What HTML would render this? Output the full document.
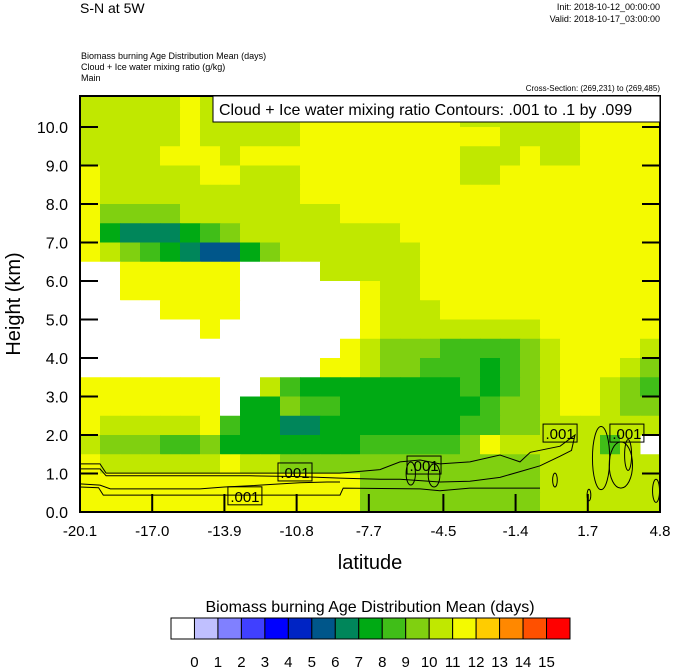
<!DOCTYPE html>
<html><head><meta charset="utf-8"><style>
body{margin:0;background:#fff;}
svg{display:block;font-family:"Liberation Sans",Arial,sans-serif;}
</style></head><body>
<svg id="chart" width="674" height="668" viewBox="0 0 674 668">
<text x="80" y="13" font-size="14">S-N at 5W</text>
<text x="660" y="10" font-size="9" text-anchor="end">Init: 2018-10-12_00:00:00</text>
<text x="660" y="22" font-size="9" text-anchor="end">Valid: 2018-10-17_03:00:00</text>
<text x="81" y="59" font-size="9">Biomass burning Age Distribution Mean   (days)</text>
<text x="81" y="70" font-size="9">Cloud + Ice water mixing ratio   (g/kg)</text>
<text x="81" y="81" font-size="9">Main</text>
<text x="660" y="91" font-size="8" text-anchor="end">Cross-Section: (269,231) to (269,485)</text>
<g id="field"></g>
<g id="contours"></g>
<g id="axes"></g>
<g id="legendbox">
<rect x="213" y="96" width="447" height="26" fill="#fff" stroke="#000" stroke-width="1"/>
<text x="219" y="115" font-size="16">Cloud + Ice water mixing ratio Contours: .001 to .1 by .099</text>
</g>
<text transform="translate(20,304) rotate(-90)" font-size="20" text-anchor="middle">Height (km)</text>
<text x="370" y="569" font-size="20" text-anchor="middle">latitude</text>
<text x="370" y="612" font-size="16" text-anchor="middle">Biomass burning Age Distribution Mean  (days)</text>
<g id="cbar"></g>
</svg>
<script>
const latTicks=["-20.1","-17.0","-13.9","-10.8","-7.7","-4.5","-1.4","1.7","4.8"];
const kmTicks=["0.0","1.0","2.0","3.0","4.0","5.0","6.0","7.0","8.0","9.0","10.0"];
const levelColors=["#ffffff","#c0c0ff","#8080ff","#4040ff","#0000ff","#0024c4","#00568a","#00865a","#00aa14","#40be18","#80d010","#c0e800","#f4fa00","#ffcc00","#ff8800","#ff5000","#ff0000"];
const levelLabels=["0","1","2","3","4","5","6","7","8","9","10","11","12","13","14","15"];
// rows of the field from top (10.5-11 km) to bottom (0-0.5 km); each char = colour level (hex)
const fieldRows=[
"bbbbbcbbbbbcccccccccccccccccc",
"bbbbbcbbbbbccccccccbbbbbbcccc",
"bbbbbcbbbbbccccccccccbbbbcccc",
"bbbbcccbcccccccccccbbbcbbcccc",
"cbbbbbccbbbccccccccbbcccccccc",
"cbbbbbbbbbbcccccccccccccccccc",
"caaaabbbbbbbbcccccccccccccccc",
"c877789abbbbbbbbccccccccccccc",
"cba987668abbbbbbbcccccccccccc",
"00cccccc0000bbbbbcccccccccccc",
"00cccccc000000cbbcccccccccccc",
"0000cccc000000cbbbccccccccccc",
"000000c0000000cbbbbbbbbcccccc",
"0000000000000cbaaa9999abccccb",
"000000000000ccbaa9998 9abcccba".replace(" ",""),
"ccccccc00b988888888989abccba9",
"ccccccc088a998888888 9aabccbaa".replace(" ",""),
"cbbbbbc98877888888899aabbbbbb",
"baaa99a888888899 99acbbbbb9b".replace(" ","9"),
"cbbbbbbcbbaaaaaaaaaaaaabbbbbb",
"ccccccccccccccaaaaaaaaabbbbbb",
"ccccccccccccccaaaaaaaaabbbbbb"];
const latMin=-20.1, latMax=4.8, kmMin=0, kmMax=10.8, kmStep=0.5;
// contour lines (.001) as [lat, km] points
const contour1=[[-20.1,1.25],[-19.24,1.25],[-18.98,1.01],[-8.94,1.01],[-7.22,1.10],[-6.36,1.30],[-5.5,1.35],[-4.65,1.25],[-3.36,1.30],[-2.07,1.48],[-1.21,1.30],[-0.77,1.55],[0.51,1.71],[1.15,2.0],[1.0,1.6],[0.51,1.45],[-0.35,1.2],[-1.21,1.05],[-2.07,0.9],[-3.36,0.8],[-4.65,0.78],[-6.36,0.85],[-7.22,0.85],[-8.94,0.88],[-10.66,0.92],[-12.8,0.94],[-18.98,0.94],[-19.24,1.12],[-20.1,1.12]];
const contour2=[[-20.1,0.73],[-19.24,0.70],[-18.8,0.60],[-14.95,0.60],[-13.9,0.65],[-12.8,0.68],[-11.5,0.73],[-10.66,0.76],[-9.5,0.78],[-8.94,0.78]];
const contour3=[[-20.1,0.65],[-19.3,0.63],[-19.1,0.44],[-8.94,0.44],[-8.8,0.62],[-5.5,0.6],[-4.65,0.55],[-3.36,0.62],[-0.35,0.62]];
const loops=[[2.27,1.40,0.37,0.82],[3.12,1.22,0.5,0.6],[3.43,1.48,0.15,0.4],[0.29,0.83,0.1,0.18],[4.63,0.55,0.15,0.3],[1.75,0.44,0.08,0.15],[-5.9,1.0,0.2,0.3],[-4.9,0.95,0.25,0.3]];
const labelPos=[[-13.02,0.42],[-10.87,1.04],[-5.33,1.22],[0.51,2.05],[3.38,2.05]];

const NS="http://www.w3.org/2000/svg";
const L=80,R=660,T=96,B=512;
const xS=v=>L+(v-latMin)/(latMax-latMin)*(R-L);
const yS=v=>B-(v-kmMin)*38.5;
function mk(t,a,p){const e=document.createElementNS(NS,t);for(const k in a)e.setAttribute(k,a[k]);p.appendChild(e);return e;}
const field=document.getElementById('field');
const nRows=fieldRows.length, nCols=fieldRows[0].length;
const colW=(R-L)/nCols;
fieldRows.forEach((row,ri)=>{
  const kmTop=(nRows-ri)*kmStep, kmBot=kmTop-kmStep;
  for(let ci=0;ci<row.length;ci++){
    const lv=parseInt(row[ci],16);
    const yt=Math.max(T,yS(kmTop)), yb=yS(kmBot);
    const r=mk('rect',{x:(L+ci*colW).toFixed(2),y:yt.toFixed(2),width:(colW+0.5).toFixed(2),height:(yb-yt+0.5).toFixed(2),fill:levelColors[lv]},field);
    
    
  }
});
const cg=document.getElementById('contours');
[contour1,contour2,contour3].forEach(c=>{
  const p=mk('polyline',{points:c.map(q=>xS(q[0]).toFixed(1)+','+yS(q[1]).toFixed(1)).join(' '),fill:'none',stroke:'#000','stroke-width':1},cg);
  
  
});
loops.forEach(o=>{
  const e=mk('ellipse',{cx:xS(o[0]),cy:yS(o[1]),rx:o[2]*(R-L)/(latMax-latMin),ry:o[3]*38.5,fill:'none',stroke:'#000','stroke-width':1},cg);
  
  
});
labelPos.forEach(o=>{
  const cx=xS(o[0]),cy=yS(o[1]);
  const r=mk('rect',{x:cx-17,y:cy-9,width:34,height:18,fill:'none',stroke:'#000','stroke-width':1},cg);
  
  
  const t=mk('text',{x:cx,y:cy+6,'font-size':15,'text-anchor':'middle'},cg);
  t.textContent='.001';
  
  
});
const ax=document.getElementById('axes');
mk('rect',{x:L,y:T,width:R-L,height:B-T,fill:'none',stroke:'#000','stroke-width':2},ax);
latTicks.forEach((s,i)=>{
  const x=xS(parseFloat(s));
  mk('line',{x1:x,y1:B,x2:x,y2:B-18,stroke:'#000','stroke-width':2},ax);
  const t=mk('text',{x:x,y:536,'font-size':15,'text-anchor':'middle'},ax);
  t.textContent=s;
  
  
});
kmTicks.forEach(s=>{
  const y=yS(parseFloat(s));
  mk('line',{x1:L,y1:y,x2:L+18,y2:y,stroke:'#000','stroke-width':2},ax);
  mk('line',{x1:R,y1:y,x2:R-18,y2:y,stroke:'#000','stroke-width':2},ax);
  const t=mk('text',{x:68,y:y+6,'font-size':16,'text-anchor':'end'},ax);
  t.textContent=s;
  
  
});
const cb=document.getElementById('cbar');
const cbL=171,cbR=570,cbW=(cbR-cbL)/levelColors.length;
levelColors.forEach((c,i)=>{
  const r=mk('rect',{x:cbL+i*cbW,y:618,width:cbW,height:21,fill:c,stroke:'#000','stroke-width':1},cb);
  
  
});
levelLabels.forEach((s,i)=>{
  const t=mk('text',{x:cbL+(i+1)*cbW,y:667,'font-size':15,'text-anchor':'middle'},cb);
  t.textContent=s;
  
  
});
</script>
</body></html>
